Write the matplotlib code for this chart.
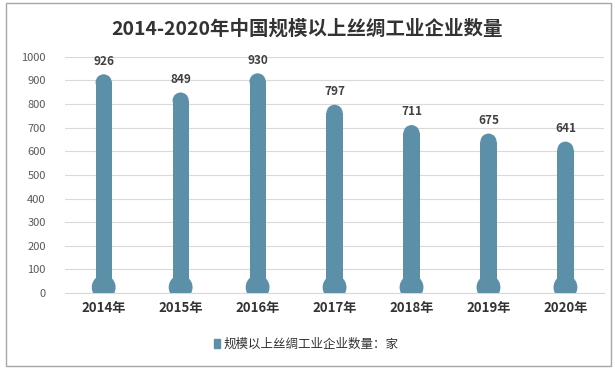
import matplotlib
matplotlib.use("Agg")
import matplotlib.pyplot as plt
from matplotlib.patches import Ellipse, Rectangle
import numpy as np

plt.rcParams['font.family'] = ['Noto Sans CJK SC', 'DejaVu Sans']

years = ["2014年", "2015年", "2016年", "2017年", "2018年", "2019年", "2020年"]
values = [926, 849, 930, 797, 711, 675, 641]
title = "2014-2020年中国规模以上丝绸工业企业数量"
series_name = "规模以上丝绸工业企业数量：家"
color = "#5B90A8"

fig = plt.figure(figsize=(6.15, 3.69), dpi=100)
ax = fig.add_axes([0.106, 0.206, 0.876, 0.640])
x = np.arange(len(years))
ax.set_xlim(-0.5, len(years) - 0.5)
ax.set_ylim(0, 1000)

w = 0.21
cap_h = 68
for xi, v in zip(x, values):
    ax.add_patch(Rectangle((xi - w / 2, 0), w, v - cap_h / 2, color=color, lw=0, zorder=3))
    ax.add_patch(Ellipse((xi, v - cap_h / 2), w, cap_h, color=color, lw=0, zorder=3))
    ax.add_patch(Ellipse((xi, 24), 0.31, 104, color=color, lw=0, zorder=3))
    ax.text(xi, v + 28, str(v), ha='center', va='bottom', fontsize=8.5,
            fontweight='bold', color='#404040')

ax.set_yticks(np.arange(0, 1001, 100))
ax.yaxis.grid(True, color='#D9D9D9', lw=0.8)
ax.set_axisbelow(True)
ax.set_xticks(x)
ax.set_xticklabels(years, fontsize=9.5, fontweight='bold', color='#333333')
ax.tick_params(axis='y', labelsize=8, colors='#595959', length=0, pad=14)
ax.tick_params(axis='x', length=0, pad=6)
for s in ax.spines.values():
    s.set_visible(False)
ax.spines['bottom'].set_visible(True)
ax.spines['bottom'].set_color('#D9D9D9')

fig.text(0.5, 0.922, title, ha='center', va='center', fontsize=14,
         fontweight='bold', color='#333333')

# legend
fig.patches.append(Rectangle((0.348, 0.056), 0.009, 0.024, transform=fig.transFigure,
                             color=color, figure=fig))
fig.text(0.363, 0.067, series_name, ha='left', va='center', fontsize=9, color='#333333')

# outer frame
fig.patches.append(Rectangle((0.0098, 0.008), 0.9837, 0.984, transform=fig.transFigure,
                             fill=False, edgecolor='#A6A6A6', lw=1, figure=fig))

fig.savefig("out.png", dpi=100)
